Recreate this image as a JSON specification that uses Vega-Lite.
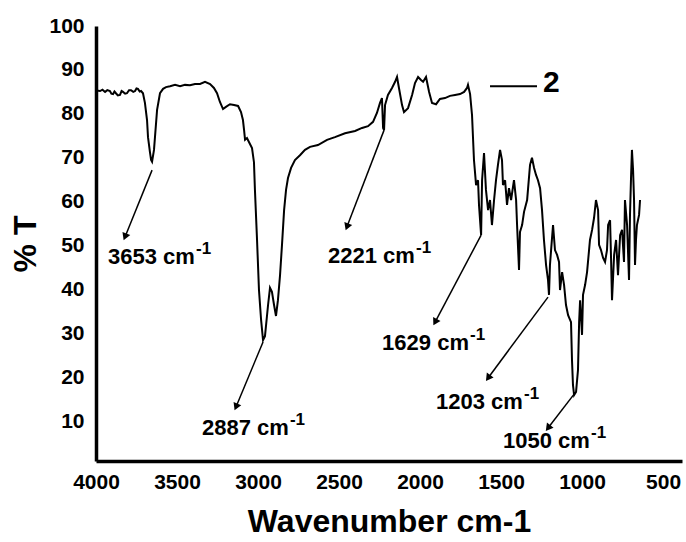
{
  "$schema": "https://vega.github.io/schema/vega-lite/v6.json",
  "width": 586,
  "height": 435,
  "autosize": {"type": "none"},
  "padding": {"left": 96, "top": 26, "right": 4, "bottom": 81},
  "background": "white",
  "config": {
    "view": {"stroke": null},
    "font": "Liberation Sans",
    "axis": {"grid": false, "ticks": false, "tickSize": 0, "domainColor": "black", "domainWidth": 3.5, "labelFont": "Liberation Sans", "labelFontWeight": "bold", "labelFontSize": 21, "labelColor": "black", "titleFont": "Liberation Sans", "titleFontWeight": "bold", "titleFontSize": 32, "titleColor": "black", "labelFlush": false, "labelOverlap": false},
    "axisX": {"labelPadding": 10, "titlePadding": 14},
    "axisY": {"labelPadding": 12, "titlePadding": 6}
  },
  "datasets": {
    "spectrum": [
      {"w": 3998, "t": 85.3}, {"w": 3975, "t": 85.2}, {"w": 3960, "t": 85.5}, {"w": 3944, "t": 85.0}, {"w": 3930, "t": 85.4}, {"w": 3914, "t": 85.2}, {"w": 3905, "t": 84.6}, {"w": 3895, "t": 84.5}, {"w": 3886, "t": 85.1}, {"w": 3877, "t": 84.7}, {"w": 3865, "t": 84.2}, {"w": 3852, "t": 84.3}, {"w": 3842, "t": 85.2}, {"w": 3833, "t": 85.0}, {"w": 3820, "t": 84.6}, {"w": 3809, "t": 84.7}, {"w": 3796, "t": 85.4}, {"w": 3784, "t": 85.4}, {"w": 3770, "t": 85.0}, {"w": 3759, "t": 85.2}, {"w": 3750, "t": 85.8}, {"w": 3741, "t": 85.7}, {"w": 3730, "t": 85.1}, {"w": 3722, "t": 85.2}, {"w": 3710, "t": 84.7}, {"w": 3698, "t": 82.5}, {"w": 3685, "t": 78.6}, {"w": 3679, "t": 74.7}, {"w": 3667, "t": 71.3}, {"w": 3660, "t": 69.5}, {"w": 3654, "t": 69.1}, {"w": 3642, "t": 71.8}, {"w": 3636, "t": 74.7}, {"w": 3623, "t": 80.9}, {"w": 3605, "t": 84.7}, {"w": 3586, "t": 85.7}, {"w": 3568, "t": 86.1}, {"w": 3543, "t": 86.3}, {"w": 3512, "t": 86.6}, {"w": 3481, "t": 86.3}, {"w": 3451, "t": 86.6}, {"w": 3420, "t": 86.5}, {"w": 3389, "t": 86.8}, {"w": 3358, "t": 86.8}, {"w": 3327, "t": 87.3}, {"w": 3296, "t": 86.8}, {"w": 3272, "t": 85.9}, {"w": 3253, "t": 84.7}, {"w": 3235, "t": 82.7}, {"w": 3216, "t": 81.1}, {"w": 3198, "t": 81.6}, {"w": 3173, "t": 82.2}, {"w": 3148, "t": 82.0}, {"w": 3123, "t": 81.8}, {"w": 3105, "t": 80.4}, {"w": 3093, "t": 78.6}, {"w": 3086, "t": 76.3}, {"w": 3080, "t": 74.1}, {"w": 3068, "t": 74.5}, {"w": 3056, "t": 73.6}, {"w": 3037, "t": 72.2}, {"w": 3025, "t": 69.0}, {"w": 3019, "t": 62.7}, {"w": 3006, "t": 51.3}, {"w": 2994, "t": 39.9}, {"w": 2981, "t": 33.1}, {"w": 2969, "t": 28.5}, {"w": 2957, "t": 29.4}, {"w": 2938, "t": 36.5}, {"w": 2926, "t": 40.4}, {"w": 2914, "t": 39.5}, {"w": 2901, "t": 36.5}, {"w": 2889, "t": 34.0}, {"w": 2877, "t": 37.6}, {"w": 2864, "t": 43.3}, {"w": 2852, "t": 50.2}, {"w": 2839, "t": 58.1}, {"w": 2827, "t": 62.7}, {"w": 2815, "t": 65.4}, {"w": 2796, "t": 67.7}, {"w": 2772, "t": 69.5}, {"w": 2741, "t": 70.6}, {"w": 2710, "t": 71.8}, {"w": 2679, "t": 72.5}, {"w": 2630, "t": 72.9}, {"w": 2574, "t": 74.1}, {"w": 2525, "t": 74.7}, {"w": 2463, "t": 75.6}, {"w": 2401, "t": 76.1}, {"w": 2358, "t": 76.8}, {"w": 2321, "t": 77.2}, {"w": 2290, "t": 78.2}, {"w": 2266, "t": 80.2}, {"w": 2247, "t": 82.5}, {"w": 2235, "t": 83.6}, {"w": 2228, "t": 76.8}, {"w": 2222, "t": 76.3}, {"w": 2216, "t": 82.0}, {"w": 2198, "t": 84.3}, {"w": 2173, "t": 85.9}, {"w": 2154, "t": 87.3}, {"w": 2142, "t": 88.4}, {"w": 2130, "t": 85.9}, {"w": 2111, "t": 82.0}, {"w": 2099, "t": 80.4}, {"w": 2074, "t": 81.3}, {"w": 2049, "t": 84.3}, {"w": 2031, "t": 87.0}, {"w": 2012, "t": 88.4}, {"w": 1994, "t": 87.7}, {"w": 1981, "t": 87.3}, {"w": 1963, "t": 88.4}, {"w": 1944, "t": 85.0}, {"w": 1926, "t": 82.5}, {"w": 1901, "t": 82.2}, {"w": 1877, "t": 83.4}, {"w": 1846, "t": 83.6}, {"w": 1815, "t": 84.1}, {"w": 1784, "t": 84.3}, {"w": 1753, "t": 84.5}, {"w": 1728, "t": 85.0}, {"w": 1710, "t": 85.9}, {"w": 1704, "t": 86.6}, {"w": 1691, "t": 84.5}, {"w": 1679, "t": 79.7}, {"w": 1667, "t": 69.5}, {"w": 1654, "t": 63.8}, {"w": 1642, "t": 64.9}, {"w": 1636, "t": 59.3}, {"w": 1623, "t": 52.4}, {"w": 1617, "t": 64.9}, {"w": 1605, "t": 71.1}, {"w": 1593, "t": 62.7}, {"w": 1580, "t": 58.1}, {"w": 1568, "t": 60.4}, {"w": 1556, "t": 54.7}, {"w": 1543, "t": 60.4}, {"w": 1531, "t": 64.9}, {"w": 1519, "t": 68.4}, {"w": 1506, "t": 71.8}, {"w": 1494, "t": 69.5}, {"w": 1488, "t": 63.8}, {"w": 1475, "t": 64.9}, {"w": 1463, "t": 59.3}, {"w": 1451, "t": 63.1}, {"w": 1438, "t": 60.4}, {"w": 1420, "t": 64.9}, {"w": 1407, "t": 60.4}, {"w": 1401, "t": 54.7}, {"w": 1389, "t": 44.5}, {"w": 1383, "t": 53.1}, {"w": 1370, "t": 54.7}, {"w": 1358, "t": 57.7}, {"w": 1339, "t": 60.4}, {"w": 1321, "t": 68.4}, {"w": 1309, "t": 70.0}, {"w": 1296, "t": 67.7}, {"w": 1284, "t": 66.1}, {"w": 1272, "t": 64.9}, {"w": 1259, "t": 63.1}, {"w": 1247, "t": 58.1}, {"w": 1235, "t": 51.3}, {"w": 1222, "t": 45.6}, {"w": 1210, "t": 42.2}, {"w": 1204, "t": 38.8}, {"w": 1198, "t": 45.6}, {"w": 1191, "t": 49.0}, {"w": 1179, "t": 54.7}, {"w": 1167, "t": 49.0}, {"w": 1154, "t": 47.9}, {"w": 1142, "t": 46.3}, {"w": 1136, "t": 39.9}, {"w": 1123, "t": 44.0}, {"w": 1111, "t": 41.1}, {"w": 1099, "t": 36.5}, {"w": 1086, "t": 34.2}, {"w": 1068, "t": 32.6}, {"w": 1062, "t": 24.0}, {"w": 1056, "t": 18.3}, {"w": 1049, "t": 16.0}, {"w": 1037, "t": 16.7}, {"w": 1025, "t": 21.7}, {"w": 1018, "t": 32.6}, {"w": 1012, "t": 37.6}, {"w": 1000, "t": 29.7}, {"w": 994, "t": 38.8}, {"w": 981, "t": 41.1}, {"w": 969, "t": 44.0}, {"w": 951, "t": 51.3}, {"w": 938, "t": 53.6}, {"w": 926, "t": 56.3}, {"w": 914, "t": 60.4}, {"w": 901, "t": 58.1}, {"w": 895, "t": 50.2}, {"w": 883, "t": 49.0}, {"w": 870, "t": 47.2}, {"w": 858, "t": 46.3}, {"w": 846, "t": 49.0}, {"w": 839, "t": 54.7}, {"w": 827, "t": 55.8}, {"w": 821, "t": 47.2}, {"w": 815, "t": 37.6}, {"w": 802, "t": 47.9}, {"w": 790, "t": 51.3}, {"w": 778, "t": 43.3}, {"w": 765, "t": 52.4}, {"w": 753, "t": 53.6}, {"w": 741, "t": 46.3}, {"w": 735, "t": 60.4}, {"w": 722, "t": 54.7}, {"w": 710, "t": 42.2}, {"w": 704, "t": 57.0}, {"w": 698, "t": 65.0}, {"w": 692, "t": 71.8}, {"w": 685, "t": 67.2}, {"w": 679, "t": 60.4}, {"w": 673, "t": 45.6}, {"w": 667, "t": 51.3}, {"w": 661, "t": 54.7}, {"w": 648, "t": 57.0}, {"w": 642, "t": 60.4}
    ],
    "peaks": [
      {"peak": "3653", "lab": "3653 cm", "x1": 3654, "y1": 67.2, "x2": 3821, "y2": 52.0, "lx": 3926, "ly": 45.8},
      {"peak": "2887", "lab": "2887 cm", "x1": 2969, "y1": 28.1, "x2": 3136, "y2": 13.3, "lx": 3346, "ly": 6.9},
      {"peak": "2221", "lab": "2221 cm", "x1": 2222, "y1": 76.3, "x2": 2451, "y2": 54.3, "lx": 2568, "ly": 46.1},
      {"peak": "1629", "lab": "1629 cm", "x1": 1623, "y1": 52.4, "x2": 1907, "y2": 32.6, "lx": 2234, "ly": 26.3},
      {"peak": "1203", "lab": "1203 cm", "x1": 1210, "y1": 38.3, "x2": 1580, "y2": 19.9, "lx": 1901, "ly": 12.8},
      {"peak": "1050", "lab": "1050 cm", "x1": 1043, "y1": 16.5, "x2": 1210, "y2": 8.5, "lx": 1488, "ly": 4.0}
    ],
    "legend": [
      {"name": "2", "x1": 1568, "x2": 1278, "y": 86.3, "lx": 1241, "ly": 85.0}
    ]
  },
  "layer": [
    {
      "data": {"name": "spectrum"},
      "mark": {"type": "line", "color": "black", "strokeWidth": 2},
      "encoding": {
        "x": {"field": "w", "type": "quantitative", "title": "Wavenumber cm-1", "scale": {"domain": [383, 4000], "reverse": true, "nice": false, "zero": false},
              "axis": {"values": [4000, 3500, 3000, 2500, 2000, 1500, 1000, 500], "format": "d"}},
        "y": {"field": "t", "type": "quantitative", "title": "% T", "scale": {"domain": [1, 100], "nice": false, "zero": false},
              "axis": {"values": [10, 20, 30, 40, 50, 60, 70, 80, 90, 100], "format": "d"}}
      }
    },
    {
      "data": {"name": "peaks"},
      "mark": {"type": "rule", "color": "black", "strokeWidth": 1.5},
      "encoding": {
        "x": {"field": "x1", "type": "quantitative", "title": "Wavenumber cm-1"},
        "x2": {"field": "x2"},
        "y": {"field": "y1", "type": "quantitative", "title": "% T"},
        "y2": {"field": "y2"}
      }
    },
    {"data": {"name": "peaks"}, "transform": [{"filter": "datum.peak == '3653'"}], "mark": {"type": "point", "shape": "triangle-up", "filled": true, "color": "black", "size": 70, "opacity": 1, "angle": 202},
     "encoding": {"x": {"field": "x2", "type": "quantitative", "title": "Wavenumber cm-1"}, "y": {"field": "y2", "type": "quantitative", "title": "% T"}}},
    {"data": {"name": "peaks"}, "transform": [{"filter": "datum.peak == '2887'"}], "mark": {"type": "point", "shape": "triangle-up", "filled": true, "color": "black", "size": 70, "opacity": 1, "angle": 203},
     "encoding": {"x": {"field": "x2", "type": "quantitative", "title": "Wavenumber cm-1"}, "y": {"field": "y2", "type": "quantitative", "title": "% T"}}},
    {"data": {"name": "peaks"}, "transform": [{"filter": "datum.peak == '2221'"}], "mark": {"type": "point", "shape": "triangle-up", "filled": true, "color": "black", "size": 70, "opacity": 1, "angle": 201},
     "encoding": {"x": {"field": "x2", "type": "quantitative", "title": "Wavenumber cm-1"}, "y": {"field": "y2", "type": "quantitative", "title": "% T"}}},
    {"data": {"name": "peaks"}, "transform": [{"filter": "datum.peak == '1629'"}], "mark": {"type": "point", "shape": "triangle-up", "filled": true, "color": "black", "size": 70, "opacity": 1, "angle": 208},
     "encoding": {"x": {"field": "x2", "type": "quantitative", "title": "Wavenumber cm-1"}, "y": {"field": "y2", "type": "quantitative", "title": "% T"}}},
    {"data": {"name": "peaks"}, "transform": [{"filter": "datum.peak == '1203'"}], "mark": {"type": "point", "shape": "triangle-up", "filled": true, "color": "black", "size": 70, "opacity": 1, "angle": 216},
     "encoding": {"x": {"field": "x2", "type": "quantitative", "title": "Wavenumber cm-1"}, "y": {"field": "y2", "type": "quantitative", "title": "% T"}}},
    {"data": {"name": "peaks"}, "transform": [{"filter": "datum.peak == '1050'"}], "mark": {"type": "point", "shape": "triangle-up", "filled": true, "color": "black", "size": 70, "opacity": 1, "angle": 218},
     "encoding": {"x": {"field": "x2", "type": "quantitative", "title": "Wavenumber cm-1"}, "y": {"field": "y2", "type": "quantitative", "title": "% T"}}},
    {
      "data": {"name": "peaks"},
      "mark": {"type": "text", "align": "left", "baseline": "alphabetic", "font": "Liberation Sans", "fontWeight": "bold", "fontSize": 22, "color": "black"},
      "encoding": {
        "x": {"field": "lx", "type": "quantitative", "title": "Wavenumber cm-1"},
        "y": {"field": "ly", "type": "quantitative", "title": "% T"},
        "text": {"field": "lab"}
      }
    },
    {
      "data": {"name": "peaks"},
      "mark": {"type": "text", "align": "left", "baseline": "alphabetic", "font": "Liberation Sans", "fontWeight": "bold", "fontSize": 17, "color": "black", "dx": 88, "dy": -10, "text": "-1"},
      "encoding": {
        "x": {"field": "lx", "type": "quantitative", "title": "Wavenumber cm-1"},
        "y": {"field": "ly", "type": "quantitative", "title": "% T"}
      }
    },
    {
      "data": {"name": "legend"},
      "mark": {"type": "rule", "color": "black", "strokeWidth": 2},
      "encoding": {
        "x": {"field": "x1", "type": "quantitative", "title": "Wavenumber cm-1"},
        "x2": {"field": "x2"},
        "y": {"field": "y", "type": "quantitative", "title": "% T"}
      }
    },
    {
      "data": {"name": "legend"},
      "mark": {"type": "text", "align": "left", "baseline": "alphabetic", "font": "Liberation Sans", "fontWeight": "bold", "fontSize": 30, "color": "black"},
      "encoding": {
        "x": {"field": "lx", "type": "quantitative", "title": "Wavenumber cm-1"},
        "y": {"field": "ly", "type": "quantitative", "title": "% T"},
        "text": {"field": "name"}
      }
    }
  ]
}
